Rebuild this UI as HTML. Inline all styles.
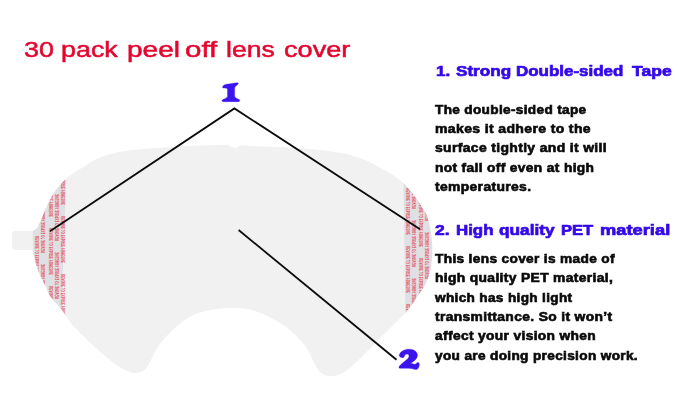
<!DOCTYPE html>
<html><head><meta charset="utf-8">
<style>
html,body{margin:0;padding:0;background:#fff;}
body{width:679px;height:420px;overflow:hidden;position:relative;font-family:"Liberation Sans",sans-serif;}
svg{position:absolute;left:0;top:0;}
.t{will-change:transform;position:absolute;white-space:nowrap;transform-origin:0 0;line-height:1;}
.ti{font-size:22.8px;font-weight:normal;color:#e4062f;-webkit-text-stroke:0.5px #e4062f;letter-spacing:0.0px;}
.h{font-size:15.5px;font-weight:bold;color:#3408ea;-webkit-text-stroke:0.7px #3408ea;letter-spacing:0.0px;}
.b{font-size:11.9px;font-weight:bold;color:#0a0a0a;-webkit-text-stroke:0.6px #0a0a0a;letter-spacing:0.3px;}
</style></head><body>
<svg width="679" height="420" viewBox="0 0 679 420">
<defs>
<clipPath id="lens"><path id="lp" d="M37.5,227.6 C38.1,226.3 39.3,223.8 41.0,220.0 C42.7,216.2 45.0,210.0 47.5,205.0 C50.0,200.0 52.6,194.6 56.0,190.0 C59.4,185.4 63.2,181.2 67.6,177.5 C72.0,173.8 77.2,170.8 82.6,167.5 C88.0,164.2 92.9,160.2 100.0,157.5 C107.1,154.8 116.7,152.5 125.0,151.0 C133.3,149.5 142.5,149.1 150.0,148.5 C157.5,147.9 161.7,147.8 170.0,147.3 C178.3,146.8 190.4,146.0 200.0,145.6 C209.6,145.2 222.9,145.1 227.5,145.0 L228.3,145 L234.7,148.6 L241.2,145.3 L242,145.3 C246.7,145.6 261.2,146.4 270.0,146.8 C278.8,147.2 286.7,147.5 295.0,148.0 C303.3,148.5 311.7,149.0 320.0,150.0 C328.3,151.0 337.5,152.1 345.0,153.8 C352.5,155.5 359.2,157.7 365.0,160.0 C370.8,162.3 375.4,165.0 380.0,167.5 C384.6,170.0 388.9,172.5 392.7,175.0 C396.5,177.5 399.4,179.5 402.7,182.6 C406.0,185.7 409.8,190.2 412.7,193.8 C415.6,197.4 417.7,200.4 420.0,203.9 C422.3,207.4 424.8,211.1 426.5,215.0 C428.2,218.9 429.1,223.4 430.0,227.6 C430.9,231.8 431.4,235.9 431.8,240.0 C432.2,244.1 432.4,248.3 432.3,252.0 C432.2,255.7 431.9,258.7 431.5,262.0 C431.1,265.3 431.1,267.9 430.0,271.7 C428.9,275.5 426.9,281.1 425.0,285.0 C423.1,288.9 420.5,291.7 418.3,295.0 C416.1,298.3 413.9,301.9 411.7,305.0 C409.5,308.1 407.2,310.8 405.0,313.3 C402.8,315.8 400.2,318.1 398.3,320.0 C396.4,321.9 396.4,321.9 393.3,325.0 C390.2,328.1 384.4,333.9 380.0,338.3 C375.6,342.8 371.1,347.2 366.7,351.7 C362.2,356.1 357.2,361.5 353.3,365.0 C349.4,368.5 346.6,370.9 343.3,372.7 C340.0,374.5 336.6,375.7 333.3,376.0 C330.0,376.3 326.2,376.1 323.3,374.5 C320.4,372.9 318.2,369.9 316.0,366.5 C313.8,363.1 312.2,358.0 310.0,354.0 C307.8,350.0 305.8,346.5 302.5,342.5 C299.2,338.5 294.6,333.8 290.0,330.0 C285.4,326.2 280.8,323.2 275.0,320.0 C269.2,316.8 261.2,313.0 255.0,311.0 C248.8,309.0 243.3,308.4 237.5,308.0 C231.7,307.6 226.2,308.0 220.0,308.8 C213.8,309.5 205.8,310.6 200.0,312.5 C194.2,314.4 190.0,316.7 185.0,320.0 C180.0,323.3 174.6,327.9 170.0,332.5 C165.4,337.1 160.7,342.9 157.5,347.5 C154.3,352.1 153.1,356.3 151.0,360.0 C148.9,363.7 147.7,367.3 145.0,369.5 C142.3,371.7 138.3,372.9 135.0,373.0 C131.7,373.1 129.2,372.2 125.0,370.0 C120.8,367.8 115.8,364.6 110.0,360.0 C104.2,355.4 96.2,348.3 90.0,342.5 C83.8,336.7 77.3,330.5 72.5,325.0 C67.7,319.5 64.3,313.1 61.4,309.3 C58.5,305.5 57.0,304.4 55.0,302.0 C53.0,299.6 50.8,297.6 49.3,295.0 C47.8,292.4 47.3,290.0 45.8,286.7 C44.2,283.4 41.7,278.9 40.0,275.0 C38.3,271.1 37.0,267.2 35.8,263.3 C34.6,259.4 33.5,253.5 33.0,251.5 L32.5,250 L15.5,250 Q12,250 12,246.5 L12,234.3 Q12,230.8 15.5,230.8 L33,230.8 Q35.5,230 37.5,227.6 Z"/></clipPath>
<linearGradient id="tg" x1="0" y1="0" x2="0" y2="1"><stop offset="0" stop-color="#fbfbfb"/><stop offset="1" stop-color="#f1f1f1"/></linearGradient>
<filter id="soft" x="-5%" y="-5%" width="110%" height="110%"><feGaussianBlur stdDeviation="0.6"/></filter>
</defs>
<use href="#lp" fill="#f1f1f1" filter="url(#soft)"/>
<g clip-path="url(#lens)">
<polygon points="32.8,140 67.7,140 60.6,330 32.8,330" fill="#dfe0e4"/>
<polygon points="402.9,140 405.6,330 445,330 445,140" fill="#dfe0e4"/>
<g font-family="Liberation Sans, sans-serif" font-weight="bold" font-size="5.0" fill="#e5525f">
<text transform="translate(34.9,120) rotate(90) scale(0.6,1)">REMOVE TO EXPOSE ADHESIVE</text>
<text transform="translate(34.9,178) rotate(90) scale(0.6,1)">REMOVE TO EXPOSE ADHESIVE</text>
<text transform="translate(34.9,236) rotate(90) scale(0.6,1)">REMOVE TO EXPOSE ADHESIVE</text>
<text transform="translate(34.9,294) rotate(90) scale(0.6,1)">REMOVE TO EXPOSE ADHESIVE</text>
<text transform="translate(45.4,195) rotate(-90) scale(0.6,1)">REMOVE TO EXPOSE ADHESIVE</text>
<text transform="translate(45.4,253) rotate(-90) scale(0.6,1)">REMOVE TO EXPOSE ADHESIVE</text>
<text transform="translate(45.4,311) rotate(-90) scale(0.6,1)">REMOVE TO EXPOSE ADHESIVE</text>
<text transform="translate(45.4,369) rotate(-90) scale(0.6,1)">REMOVE TO EXPOSE ADHESIVE</text>
<text transform="translate(48.6,170) rotate(90) scale(0.6,1)">REMOVE TO EXPOSE ADHESIVE</text>
<text transform="translate(48.6,228) rotate(90) scale(0.6,1)">REMOVE TO EXPOSE ADHESIVE</text>
<text transform="translate(48.6,286) rotate(90) scale(0.6,1)">REMOVE TO EXPOSE ADHESIVE</text>
<text transform="translate(58.6,183) rotate(-90) scale(0.6,1)">REMOVE TO EXPOSE ADHESIVE</text>
<text transform="translate(58.6,241) rotate(-90) scale(0.6,1)">REMOVE TO EXPOSE ADHESIVE</text>
<text transform="translate(58.6,299) rotate(-90) scale(0.6,1)">REMOVE TO EXPOSE ADHESIVE</text>
<text transform="translate(58.6,357) rotate(-90) scale(0.6,1)">REMOVE TO EXPOSE ADHESIVE</text>
<text transform="translate(61.2,158) rotate(90) scale(0.6,1)">REMOVE TO EXPOSE ADHESIVE</text>
<text transform="translate(61.2,216) rotate(90) scale(0.6,1)">REMOVE TO EXPOSE ADHESIVE</text>
<text transform="translate(61.2,274) rotate(90) scale(0.6,1)">REMOVE TO EXPOSE ADHESIVE</text>
<text transform="translate(61.2,332) rotate(90) scale(0.6,1)">REMOVE TO EXPOSE ADHESIVE</text>
<text transform="translate(405.7,130) rotate(90) scale(0.6,1)">REMOVE TO EXPOSE ADHESIVE</text>
<text transform="translate(405.7,188) rotate(90) scale(0.6,1)">REMOVE TO EXPOSE ADHESIVE</text>
<text transform="translate(405.7,246) rotate(90) scale(0.6,1)">REMOVE TO EXPOSE ADHESIVE</text>
<text transform="translate(405.7,304) rotate(90) scale(0.6,1)">REMOVE TO EXPOSE ADHESIVE</text>
<text transform="translate(415.8,209) rotate(-90) scale(0.6,1)">REMOVE TO EXPOSE ADHESIVE</text>
<text transform="translate(415.8,267) rotate(-90) scale(0.6,1)">REMOVE TO EXPOSE ADHESIVE</text>
<text transform="translate(415.8,325) rotate(-90) scale(0.6,1)">REMOVE TO EXPOSE ADHESIVE</text>
<text transform="translate(415.8,383) rotate(-90) scale(0.6,1)">REMOVE TO EXPOSE ADHESIVE</text>
<text transform="translate(418.7,142) rotate(90) scale(0.6,1)">REMOVE TO EXPOSE ADHESIVE</text>
<text transform="translate(418.7,200) rotate(90) scale(0.6,1)">REMOVE TO EXPOSE ADHESIVE</text>
<text transform="translate(418.7,258) rotate(90) scale(0.6,1)">REMOVE TO EXPOSE ADHESIVE</text>
<text transform="translate(418.7,316) rotate(90) scale(0.6,1)">REMOVE TO EXPOSE ADHESIVE</text>
<text transform="translate(428.8,221) rotate(-90) scale(0.6,1)">REMOVE TO EXPOSE ADHESIVE</text>
<text transform="translate(428.8,279) rotate(-90) scale(0.6,1)">REMOVE TO EXPOSE ADHESIVE</text>
<text transform="translate(428.8,337) rotate(-90) scale(0.6,1)">REMOVE TO EXPOSE ADHESIVE</text>
</g>
</g>
<g fill="#3b14ee" stroke="#3b14ee" stroke-width="3" stroke-linejoin="round">
<path transform="translate(215,75) scale(0.119)" d="M64,98 C72,84 84,80 98,78 L184,66 C196,64 200,72 192,80 C180,90 166,96 165,112 L165,176 C166,192 190,198 204,206 C212,212 208,224 198,224 L70,224 C58,224 56,212 64,207 C80,198 104,194 105,178 L105,122 C104,112 92,110 80,110 C68,110 60,106 64,98 Z"/>
<path transform="translate(385,335) scale(0.119)" d="M119,172 C124,138 164,118 205,119 C250,120 276,146 272,176 C269,204 240,222 214,238 C232,238 246,252 258,244 C266,238 270,228 280,232 C290,236 290,250 286,262 C282,278 274,292 258,290 C240,288 226,280 200,280 L128,280 C116,280 114,270 122,260 C136,244 160,226 182,208 C198,194 206,180 200,168 C194,158 178,158 168,166 C164,172 166,180 158,186 C148,194 126,192 119,172 Z"/>
</g>
<g stroke="#0b0b0b" stroke-width="1.8" fill="none" stroke-linecap="butt">
<path d="M50,231.3 L234.400,108.4 L420,229.3"/>
<path d="M238.600,230 L396.5,359.8"/>
</g>
</svg>
<div class="t ti" style="left:24.02px;top:37.60px;transform:scaleX(1.1792)">30</div>
<div class="t ti" style="left:60.53px;top:37.60px;transform:scaleX(1.1788)">pack</div>
<div class="t ti" style="left:126.56px;top:37.60px;transform:scaleX(1.2319)">peel</div>
<div class="t ti" style="left:185.33px;top:37.60px;transform:scaleX(1.2939)">off</div>
<div class="t ti" style="left:225.64px;top:37.60px;transform:scaleX(1.1650)">lens</div>
<div class="t ti" style="left:283.81px;top:37.60px;transform:scaleX(1.1909)">cover</div>
<div class="t h" style="left:435.65px;top:63.48px;transform:scaleX(1.0979)">1.</div>
<div class="t h" style="left:455.80px;top:63.48px;transform:scaleX(1.1046)">Strong</div>
<div class="t h" style="left:516.45px;top:63.48px;transform:scaleX(1.0938)">Double-sided</div>
<div class="t h" style="left:631.68px;top:63.48px;transform:scaleX(1.1314)">Tape</div>
<div class="t h" style="left:435.30px;top:222.38px;transform:scaleX(1.1265)">2.</div>
<div class="t h" style="left:455.56px;top:222.38px;transform:scaleX(1.0866)">High</div>
<div class="t h" style="left:499.32px;top:222.38px;transform:scaleX(1.1120)">quality</div>
<div class="t h" style="left:561.47px;top:222.38px;transform:scaleX(1.0667)">PET</div>
<div class="t h" style="left:600.11px;top:222.38px;transform:scaleX(1.1811)">material</div>
<div class="t b" style="left:435.49px;top:104.63px;transform:scaleX(1.1434)">The double-sided tape</div>
<div class="t b" style="left:434.90px;top:124.03px;transform:scaleX(1.1802)">makes it adhere to the</div>
<div class="t b" style="left:434.91px;top:143.43px;transform:scaleX(1.1712)">surface tightly and it will</div>
<div class="t b" style="left:434.91px;top:162.83px;transform:scaleX(1.1576)">not fall off even at high</div>
<div class="t b" style="left:435.49px;top:182.23px;transform:scaleX(1.1671)">temperatures.</div>
<div class="t b" style="left:435.49px;top:253.63px;transform:scaleX(1.1497)">This lens cover is made of</div>
<div class="t b" style="left:434.91px;top:273.08px;transform:scaleX(1.1632)">high quality PET material,</div>
<div class="t b" style="left:435.49px;top:292.53px;transform:scaleX(1.1427)">which has high light</div>
<div class="t b" style="left:435.49px;top:311.98px;transform:scaleX(1.1633)">transmittance. So it won’t</div>
<div class="t b" style="left:435.20px;top:331.43px;transform:scaleX(1.1588)">affect your vision when</div>
<div class="t b" style="left:435.49px;top:350.88px;transform:scaleX(1.1457)">you are doing precision work.</div>
</body></html>
